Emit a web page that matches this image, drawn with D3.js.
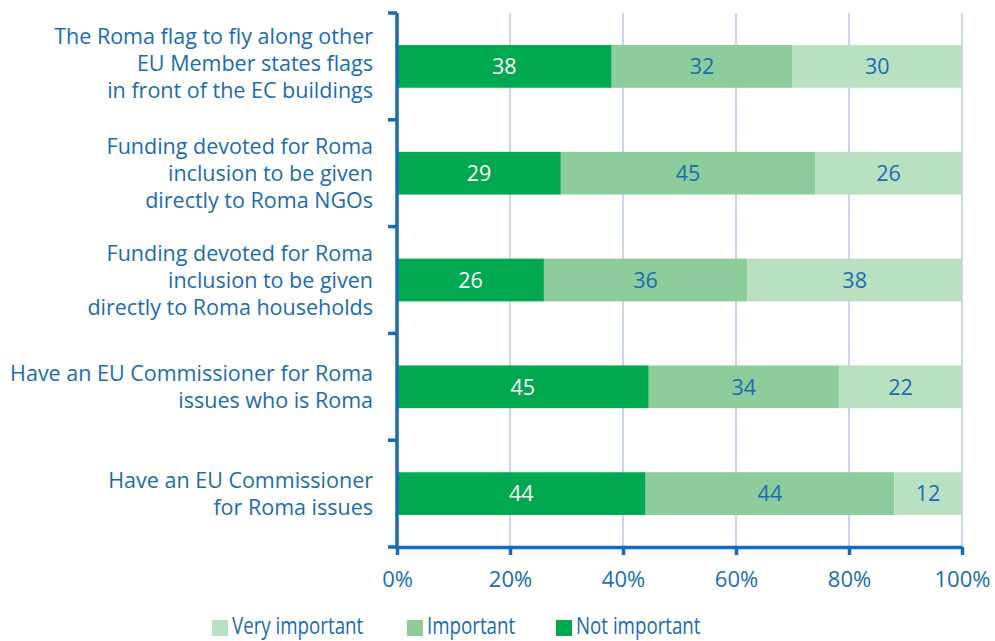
<!DOCTYPE html>
<html><head><meta charset="utf-8">
<script src="https://cdn.jsdelivr.net/npm/d3@7"></script>
<style>body{margin:0;background:#fff}svg{display:block}text{font-family:"Open Sans",Lato,sans-serif}</style>
</head><body>
<svg id="c" width="995" height="641"></svg>
<script>
const categories = [
  ["The Roma flag to fly along other","EU Member states flags","in front of the EC buildings"],
  ["Funding devoted for Roma","inclusion to be given","directly to Roma NGOs"],
  ["Funding devoted for Roma","inclusion to be given","directly to Roma households"],
  ["Have an EU Commissioner for Roma","issues who is Roma"],
  ["Have an EU Commissioner","for Roma issues"]
];
const notImportant = [38, 29, 26, 45, 44];
const important = [32, 45, 36, 34, 44];
const veryImportant = [30, 26, 38, 22, 12];
const seriesNames = ["Not important", "Important", "Very important"];
const legendOrder = ["Very important", "Important", "Not important"];
const xTicks = [0, 0.2, 0.4, 0.6, 0.8, 1];

(function(){
const colors = {"Not important":"#00a84f","Important":"#8dcd9b","Very important":"#b9e0c1"};
const textBlue = "#1a6bb5";
const axisBlue = "#1a6bb5";
const FONT = "'Open Sans',Lato,sans-serif";

const rows = categories.map((c,i)=>({i, "Not important":notImportant[i], "Important":important[i], "Very important":veryImportant[i]}));
const stack = d3.stack().keys(seriesNames).offset(d3.stackOffsetExpand);
const series = stack(rows);

const svg = d3.select("#c");
const L = 397, R = 962, T = 13, B = 547;
const x = d3.scaleLinear().domain([0,1]).range([L,R]);
const y = d3.scaleBand().domain(d3.range(categories.length)).range([T,B]).paddingInner(0.6).paddingOuter(0.3);
const yb = d3.scaleBand().domain(d3.range(categories.length)).range([T,B]);

svg.append("g").selectAll("line").data(xTicks.slice(1)).join("line")
  .attr("x1",d=>x(d)).attr("x2",d=>x(d)).attr("y1",T).attr("y2",B)
  .attr("stroke","#c9d5ee").attr("stroke-width",2);

const g = svg.append("g");
series.forEach(s=>{
  g.append("g").selectAll("rect").data(s).join("rect")
    .attr("x",d=>x(d[0])).attr("width",d=>x(d[1])-x(d[0]))
    .attr("y",(d,i)=>y(i)).attr("height",y.bandwidth())
    .attr("fill",colors[s.key]);
  g.append("g").selectAll("text").data(s).join("text")
    .attr("x",d=>(x(d[0])+x(d[1]))/2).attr("y",(d,i)=>y(i)+y.bandwidth()/2)
    .attr("dy","0.36em").attr("text-anchor","middle")
    .attr("font-size",21.5)
    .attr("fill", s.key==="Not important" ? "#ffffff" : textBlue)
    .text(d=>d.data[s.key]);
});

const xAxis = d3.axisBottom(x).tickValues(xTicks).tickFormat(d3.format(".0%")).tickSize(8).tickSizeOuter(0);
const gx = svg.append("g").attr("transform",`translate(0,${B})`).call(xAxis);
gx.select(".domain").attr("stroke",axisBlue).attr("stroke-width",3.5);
gx.selectAll(".tick line").attr("stroke",axisBlue).attr("stroke-width",3.5);
gx.selectAll(".tick text").attr("fill",textBlue).attr("font-size",22).attr("dy","1.3em")
  .style("font-family",FONT);

const yTickVals = d3.range(categories.length+1).map(i=> i<categories.length ? yb(i) : B);
svg.append("line").attr("x1",L).attr("x2",L).attr("y1",T).attr("y2",B)
  .attr("stroke",axisBlue).attr("stroke-width",3.5);
svg.append("g").selectAll("line").data(yTickVals).join("line")
  .attr("x1",L-9).attr("x2",L).attr("y1",d=>d).attr("y2",d=>d)
  .attr("stroke",axisBlue).attr("stroke-width",3.5);

categories.forEach((lines,i)=>{
  const cy = y(i)+y.bandwidth()/2 - (i===0 ? 3 : 0);
  const lh = 27;
  const t = svg.append("text").attr("text-anchor","end").attr("fill",textBlue).attr("font-size",21.5);
  lines.forEach((ln,j)=>{
    t.append("tspan").attr("x",373).attr("y",cy + (j-(lines.length-1)/2)*lh).attr("dy","0.36em").text(ln);
  });
});

const legX = [212, 407, 556];
const lg = svg.append("g");
legendOrder.forEach((k,i)=>{
  lg.append("rect").attr("x",legX[i]).attr("y",620).attr("width",16).attr("height",16).attr("fill",colors[k]);
  lg.append("text").attr("transform",`translate(${legX[i]+20},633.5) scale(0.78,1)`)
    .attr("fill",textBlue).attr("font-size",24).text(k);
});
})();
</script>
</body></html>
